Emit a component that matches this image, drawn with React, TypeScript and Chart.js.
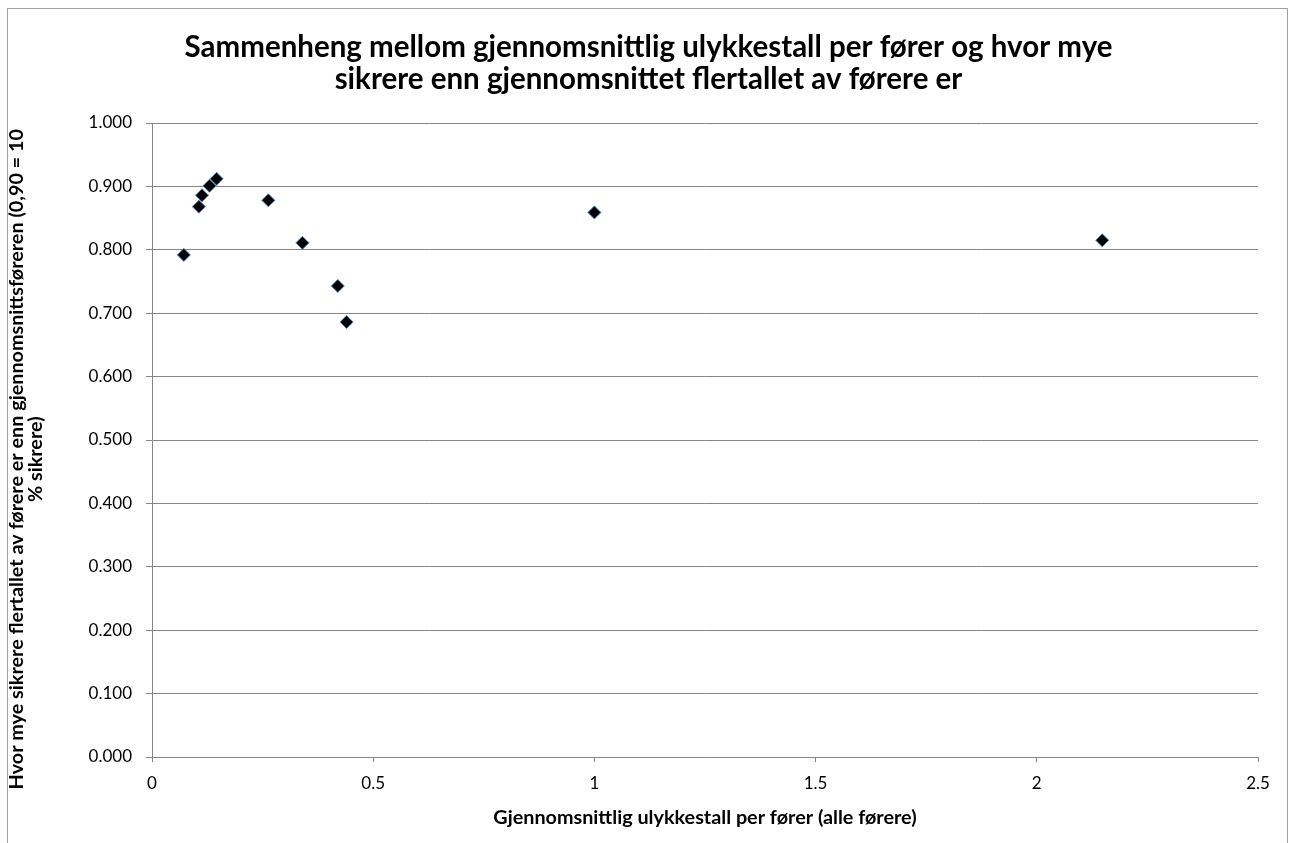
import React, { useEffect, useRef } from "react";
import { Chart, registerables } from "chart.js";

Chart.register(...registerables);

const xValues = [0.072, 0.106, 0.113, 0.130, 0.146, 0.263, 0.340, 0.420, 0.440, 1.0, 2.148];
const yValues = [0.792, 0.868, 0.886, 0.901, 0.912, 0.878, 0.811, 0.743, 0.686, 0.859, 0.815];
const titleLines = [
  "Sammenheng mellom gjennomsnittlig ulykkestall per fører og hvor mye",
  "sikrere enn gjennomsnittet flertallet av førere er",
];
const xTitle = "Gjennomsnittlig ulykkestall per fører (alle førere)";
const yTitleLines = [
  "Hvor mye sikrere flertallet av førere er enn gjennomsnittsføreren (0,90 = 10",
  "% sikrere)",
];
// trailing spaces shift the rotated title slightly downward, as in the reference
const yTitlePad = "        ";

const FONT = "Lato, 'Open Sans', sans-serif";
const GRID = "#868686";

const framePlugin = {
  id: "frame",
  beforeDraw(chart: any) {
    const ctx = chart.ctx;
    ctx.save();
    ctx.fillStyle = "#ffffff";
    ctx.fillRect(0, 0, chart.width, chart.height);
    ctx.strokeStyle = "#a0a0a0";
    ctx.lineWidth = 1;
    ctx.strokeRect(7.5, 8.5, 1280, 900);
    ctx.restore();
  },
};

export default function App() {
  const ref = useRef<HTMLCanvasElement | null>(null);
  useEffect(() => {
    if (!ref.current) return;
    const data = xValues.map((x, i) => ({ x, y: yValues[i] }));
    const chart = new Chart(ref.current, {
      type: "scatter",
      data: {
        datasets: [
          {
            data,
            pointStyle: "rectRot",
            pointRadius: 6.5,
            pointBackgroundColor: "#000000",
            pointBorderColor: "#4f81bd",
            pointBorderWidth: 1,
          },
        ],
      },
      plugins: [framePlugin],
      options: {
        animation: false,
        responsive: false,
        layout: { padding: { left: 8, right: 1, top: 0, bottom: 0 } },
        plugins: {
          legend: { display: false },
          tooltip: { enabled: false },
          title: {
            display: true,
            text: titleLines,
            color: "#000",
            font: { family: FONT, size: 29.5, weight: "bold", lineHeight: 1.085 },
            padding: { top: 31, bottom: 28 },
          },
        },
        scales: {
          x: {
            type: "linear",
            min: 0,
            max: 2.5,
            afterFit: (s: any) => { s.height = 86; },
            ticks: {
              stepSize: 0.5,
              color: "#000",
              font: { family: FONT, size: 17 },
              padding: 11,
              callback: (v: any) => String(v),
            },
            grid: { drawOnChartArea: false, color: GRID, tickLength: 5 },
            border: { color: GRID },
            title: {
              display: true,
              text: xTitle,
              color: "#000",
              font: { family: FONT, size: 19.8, weight: "bold", lineHeight: 1.2 },
              padding: { top: 0, bottom: 14 },
            },
          },
          y: {
            type: "linear",
            min: 0,
            max: 1,
            afterFit: (s: any) => { s.width = 144; },
            ticks: {
              stepSize: 0.1,
              color: "#000",
              font: { family: FONT, size: 17 },
              padding: 14,
              callback: (v: any) => Number(v).toFixed(3),
            },
            grid: { color: GRID, tickLength: 6 },
            border: { color: GRID },
            title: {
              display: true,
              text: yTitleLines.map((l) => l + yTitlePad),
              color: "#000",
              font: { family: FONT, size: 19.8, weight: "bold", lineHeight: 0.92 },
              padding: { top: 0, bottom: 0 },
            },
          },
          y2: {
            type: "linear",
            position: "right",
            min: 0,
            max: 1,
            afterFit: (s: any) => { s.width = 31; },
            ticks: { display: false },
            grid: { display: false },
            border: { display: false },
          },
        },
      },
    });
    return () => chart.destroy();
  }, []);
  return (
    <div style={{ position: "absolute", left: 0, top: 0, width: 1290, height: 843 }}>
      <canvas ref={ref} width={1290} height={843} style={{ display: "block" }} />
    </div>
  );
}
